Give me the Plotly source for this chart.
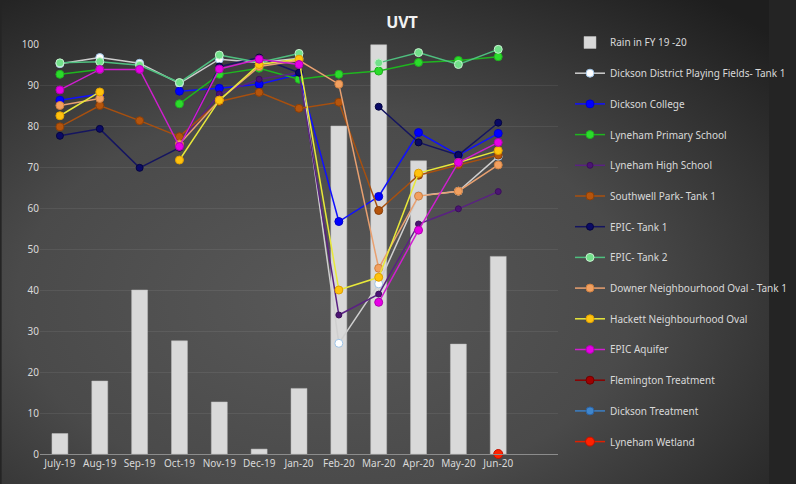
import base64
import plotly.graph_objects as go

months = ["July-19", "Aug-19", "Sep-19", "Oct-19", "Nov-19", "Dec-19",
          "Jan-20", "Feb-20", "Mar-20", "Apr-20", "May-20", "Jun-20"]
rain = [5.0, 17.8, 40.0, 27.6, 12.7, 1.2, 16.0, 80.0, 99.8, 71.5, 26.8, 48.2]

N = None
dickson_district = [95.2, 96.7, 95.3, 90.4, 96.3, 95.5, 96.5, 27.0, 41.5, 63.0, 64.1, 72.6]
dickson_college = [86.3, 87.8, N, 88.5, 89.2, 90.2, 92.6, 56.7, 62.8, 78.4, 72.9, 78.2]
lyneham_primary = [92.6, 93.8, N, 85.4, 92.6, 94.1, 91.4, 92.6, 93.4, 95.5, 96.0, 96.9]
lyneham_high = [N, N, N, 75.8, 87.8, 91.4, 93.0, 33.9, 39.0, 56.1, 59.8, 64.0]
southwell = [79.8, 85.0, 81.3, 77.4, 86.0, 88.2, 84.3, 85.8, 59.4, 68.0, 70.5, 72.9]
epic_tank1 = [77.6, 79.3, 69.8, 74.7, 94.5, 96.7, 93.0, N, 84.7, 76.0, 72.9, 80.8]
epic_tank2 = [95.4, 95.7, 94.8, 90.6, 97.3, 95.5, 97.7, N, 95.4, 97.9, 95.0, 98.7]
downer = [85.0, 86.7, N, 75.6, 86.3, 94.5, 96.0, 90.2, 45.3, 62.9, 64.1, 70.5]
hackett = [82.5, 88.3, N, 71.7, 86.3, 95.0, 96.3, 40.0, 43.1, 68.5, 71.1, 74.0]
epic_aquifer = [88.8, 93.8, 93.8, 75.0, 93.9, 96.3, 95.0, N, 37.0, 54.6, 71.1, 76.0]
flemington = [N] * 12
dickson_treatment = [N] * 12
lyneham_wetland = [N, N, N, N, N, N, N, N, N, N, N, 0.0]

series = [
    ("Dickson District Playing Fields- Tank 1", dickson_district, "#cfcfcf", "#ffffff", "#9dc3e6", 8),
    ("Dickson College", dickson_college, "#1010ff", "#0000ff", "#0000cc", 8),
    ("Lyneham Primary School", lyneham_primary, "#1fb51f", "#2bdc2b", "#20b020", 8),
    ("Lyneham High School", lyneham_high, "#5a2183", "#4b1473", "#3a0f5a", 6),
    ("Southwell Park- Tank 1", southwell, "#a8500f", "#b5540c", "#8a3f08", 8),
    ("EPIC- Tank 1", epic_tank1, "#151560", "#0a0a66", "#050540", 7),
    ("EPIC- Tank 2", epic_tank2, "#4fbf7f", "#72e08a", "#c8f0d0", 8),
    ("Downer Neighbourhood Oval - Tank 1", downer, "#e8a070", "#f2a060", "#d08040", 8),
    ("Hackett Neighbourhood Oval", hackett, "#e8e83a", "#ffc20e", "#e0a000", 8),
    ("EPIC Aquifer", epic_aquifer, "#cf1fcf", "#e600e6", "#b000b0", 8),
    ("Flemington Treatment", flemington, "#8b0000", "#a00000", "#700000", 8),
    ("Dickson Treatment", dickson_treatment, "#3b7fc4", "#3f86cc", "#2a60a0", 8),
    ("Lyneham Wetland", lyneham_wetland, "#e02000", "#ff2200", "#c01000", 9),
]

xs = list(range(len(months)))
fig = go.Figure()

fig.add_trace(go.Bar(
    x=xs, y=rain, name="Rain in FY 19 -20", width=0.4,
    marker=dict(color="#d9d9d9", line=dict(color="#bfbfbf", width=0.5)),
    legendgroup="rain",
))

for name, vals, lc, mc, mlc, ms in series:
    fig.add_trace(go.Scatter(
        x=xs, y=vals, name=name, mode="lines+markers",
        line=dict(color=lc, width=1.5),
        marker=dict(color=mc, size=ms, line=dict(color=mlc, width=1)),
        connectgaps=False, legendgroup=name, cliponaxis=False,
    ))

# background radial gradient (pure decoration)
svg = """<svg xmlns='http://www.w3.org/2000/svg' width='796' height='484' viewBox='0 0 796 484' preserveAspectRatio='none'>
<defs><radialGradient id='g' cx='0.42' cy='0.62' r='0.8'>
<stop offset='0' stop-color='#585858'/><stop offset='0.5' stop-color='#4a4a4a'/>
<stop offset='1' stop-color='#1e1e1e'/></radialGradient></defs>
<rect width='796' height='484' fill='url(#g)'/></svg>"""
src = "data:image/svg+xml;base64," + base64.b64encode(svg.encode()).decode()

W, H = 796, 484
L, R, T, B = 40, 219, 44, 30
pw, ph = W - L - R, H - T - B

fig.add_layout_image(dict(
    source=src, xref="paper", yref="paper",
    x=-L / pw, y=1 + T / ph, sizex=W / pw, sizey=H / ph,
    xanchor="left", yanchor="top", sizing="stretch", layer="below",
))

font = "Noto Sans, Open Sans, sans-serif"
fig.update_layout(
    width=W, height=H,
    margin=dict(l=L, r=R, t=T, b=B, pad=0),
    paper_bgcolor="#242424", plot_bgcolor="rgba(0,0,0,0)",
    title=dict(text="<b>UVT</b>", x=402 / W, xref="container", xanchor="center",
               y=1 - 22 / H, yref="container", yanchor="middle",
               font=dict(family=font, size=16, color="#f2f2f2")),
    font=dict(family=font, size=10, color="#d9d9d9"),
    showlegend=True,
    legend=dict(
        xref="container", yref="container", x=570 / W, y=1 - 28 / H,
        xanchor="left", yanchor="top", bgcolor="rgba(0,0,0,0)",
        font=dict(family=font, size=10, color="#d9d9d9"),
        tracegroupgap=11.7, itemwidth=30, traceorder="grouped",
        maxheight=470,
    ),
    bargap=0.6,
    hovermode=False,
)
fig.update_xaxes(
    range=[-0.5, 12.5], tickmode="array", tickvals=xs, ticktext=months,
    showgrid=False, showline=True, linecolor="#8c8c8c", linewidth=1,
    ticks="", tickfont=dict(size=10, color="#d9d9d9"), zeroline=False,
)
fig.update_yaxes(
    range=[0, 100], dtick=10, showgrid=True, gridcolor="rgba(255,255,255,0.07)",
    gridwidth=1, zeroline=False, showline=False, ticks="",
    tickfont=dict(size=10, color="#d9d9d9"),
)

fig.write_html("out.html")
